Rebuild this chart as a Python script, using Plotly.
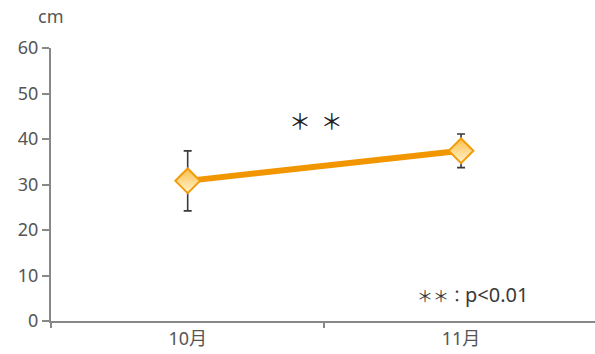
import plotly.graph_objects as go

categories = ["10月", "11月"]
means = [30.8, 37.4]
errors = [6.6, 3.7]
y_ticks = [0, 10, 20, 30, 40, 50, 60]

fig = go.Figure()
fig.add_trace(go.Scatter(
    x=categories, y=means,
    mode="lines+markers",
    line=dict(color="#F29600", width=6),
    marker=dict(symbol="diamond", size=19, color="#FBC04A",
                gradient=dict(type="vertical", color="#FFF3CF"),
                line=dict(color="#F29C0A", width=2)),
    error_y=dict(type="data", array=errors, visible=True,
                 color="#3a3a3a", thickness=1.6, width=4),
    showlegend=False,
))

fig.update_layout(
    width=595, height=354,
    margin=dict(l=51, r=0, t=48, b=33),
    paper_bgcolor="white", plot_bgcolor="white",
    font=dict(family="Noto Sans, Open Sans, sans-serif", color="#555555"),
    xaxis=dict(type="category", range=[-0.5, 1.49], tickson="boundaries",
               ticks="outside", ticklen=5, tickcolor="#888888", tickwidth=1.5,
               showline=True, linecolor="#888888", linewidth=2,
               showgrid=False, zeroline=False,
               tickfont=dict(size=18, color="#555555",
                             family="Noto Sans, Noto Sans CJK JP, sans-serif")),
    yaxis=dict(range=[0, 60], tickvals=y_ticks,
               ticks="outside", ticklen=7, tickcolor="#888888", tickwidth=1.5,
               showline=True, linecolor="#888888", linewidth=2,
               showgrid=False, zeroline=False,
               tickfont=dict(size=18, color="#555555")),
    annotations=[
        dict(text="cm", xref="paper", yref="paper", x=0.0, y=1.0,
             xshift=-1, yshift=32, xanchor="center", yanchor="middle",
             showarrow=False, font=dict(size=18, color="#555555")),
        dict(text="＊  ＊", xref="paper", yref="y", x=0.487, y=44.4,
             xanchor="center", yanchor="middle", showarrow=False,
             font=dict(size=22, color="#222222",
                       family="Noto Sans CJK JP, sans-serif")),
        dict(text='<span style="font-family:Noto Sans CJK JP;font-size:16px">＊＊：</span>p&lt;0.01',
             xref="paper", yref="y", x=0.775, y=5.9,
             xanchor="center", yanchor="middle", showarrow=False,
             font=dict(size=20, color="#3a3a3a",
                       family="Noto Sans, sans-serif")),
    ],
)

fig.write_html("out.html")
